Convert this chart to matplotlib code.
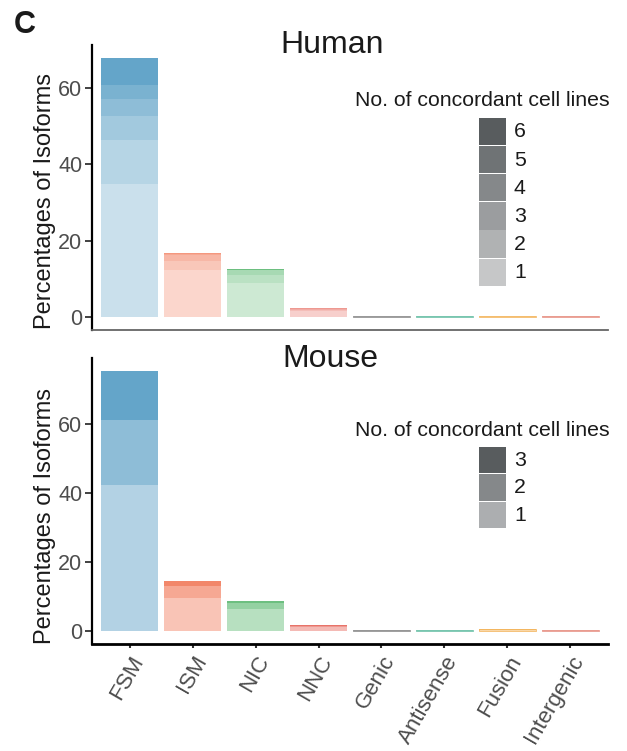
"""
Stacked bars of isoform categories (percentages), split by the number of
concordant cell lines, for human and mouse.
"""
import numpy as np
import matplotlib
matplotlib.use("Agg")
import matplotlib.pyplot as plt
from matplotlib.colors import to_rgb
from matplotlib.patches import Rectangle


CATEGORIES = ["FSM", "ISM", "NIC", "NNC", "Genic", "Antisense", "Fusion", "Intergenic"]

# percentage of isoforms per category, one list per number of concordant cell lines
HUMAN_1 = [34.8, 12.4, 9.0, 1.6, 0.15, 0.12, 0.12, 0.12]
HUMAN_2 = [11.6, 2.4, 1.9, 0.35, 0.06, 0.05, 0.05, 0.05]
HUMAN_3 = [6.4, 1.35, 1.3, 0.2, 0.04, 0.04, 0.04, 0.04]
HUMAN_4 = [4.3, 0.35, 0.2, 0.1, 0.03, 0.03, 0.03, 0.03]
HUMAN_5 = [3.8, 0.2, 0.05, 0.03, 0.02, 0.02, 0.02, 0.02]
HUMAN_6 = [7.0, 0.2, 0.05, 0.02, 0.02, 0.02, 0.02, 0.02]

MOUSE_1 = [42.4, 9.6, 6.2, 0.9, 0.12, 0.14, 0.16, 0.14]
MOUSE_2 = [18.8, 3.4, 1.9, 0.4, 0.07, 0.07, 0.08, 0.07]
MOUSE_3 = [14.3, 1.4, 0.5, 0.2, 0.05, 0.06, 0.06, 0.05]

HUMAN_LEVELS = ["1", "2", "3", "4", "5", "6"]
MOUSE_LEVELS = ["1", "2", "3"]

BASE_COLORS = ["#4995bf", "#f07250", "#53b469", "#e45a4e",
               "#6a6a6a", "#3fae8c", "#f0a030", "#e07262"]
LEGEND_BASE = "#3a3f42"
HUMAN_ALPHA = [0.29, 0.40, 0.51, 0.62, 0.73, 0.85]
MOUSE_ALPHA = [0.42, 0.62, 0.85]

W, H = 627, 751
TEXT = "#1a1a1a"
TICK = "#4d4d4d"

plt.rcParams["font.family"] = ["Liberation Sans", "DejaVu Sans"]


def tint(color, alpha):
    """Blend a colour with white, like a translucent fill on a white page."""
    rgb = np.array(to_rgb(color))
    return tuple(1 - alpha * (1 - rgb))


def px(x, y):
    """Pixel position (from the top left) to figure fraction."""
    return x / W, 1 - y / H


def draw_panel(ax, levels, alphas, show_x):
    x = np.arange(1, len(CATEGORIES) + 1)
    bottom = np.zeros(len(CATEGORIES))
    for values, alpha in zip(levels, alphas):
        values = np.array(values)
        colors = [tint(c, alpha) for c in BASE_COLORS]
        ax.bar(x, values, width=0.9, bottom=bottom, color=colors, linewidth=0)
        bottom += values
    # thin outline on the tiny categories so they stay visible as a line
    small = bottom < 1
    ax.bar(x[small], bottom[small], width=0.9, color="none",
           edgecolor=[tint(c, 0.75) for c, s in zip(BASE_COLORS, small) if s],
           linewidth=0.6)
    top = bottom.max()
    ax.set_ylim(-0.05 * top, 1.05 * top)
    ax.set_xlim(0.4, len(CATEGORIES) + 0.6)
    ax.set_yticks([0, 20, 40, 60])
    ax.tick_params(axis="y", labelsize=15.5, labelcolor=TICK, length=5,
                   width=1.3, color="#333333", pad=2)
    for side in ("top", "right"):
        ax.spines[side].set_visible(False)
    ax.spines["left"].set_linewidth(1.6)
    ax.spines["left"].set_color("black")
    ax.set_xticks(x)
    if show_x:
        ax.spines["bottom"].set_linewidth(2.0)
        ax.spines["bottom"].set_color("black")
        ax.tick_params(axis="x", length=3, width=1.5, color="#333333", pad=3)
        ax.set_xticklabels(CATEGORIES, rotation=60, ha="right", va="top",
                           rotation_mode="anchor", fontsize=16, color=TICK)
    else:
        ax.spines["bottom"].set_linewidth(1.3)
        ax.spines["bottom"].set_color("#666666")
        ax.tick_params(axis="x", length=0, labelbottom=False)


def draw_legend(fig, labels, alphas, title_y, top_y, box_h):
    fig.text(*px(355, title_y), "No. of concordant cell lines", fontsize=15.3,
             color=TEXT, ha="left", va="center")
    for i, (label, alpha) in enumerate(zip(labels[::-1], alphas[::-1])):
        y0 = top_y + i * box_h
        x0, y1 = px(479, y0 + box_h - 1)
        fig.add_artist(Rectangle((x0, y1), 27 / W, (box_h - 1) / H,
                                 transform=fig.transFigure,
                                 facecolor=tint(LEGEND_BASE, alpha),
                                 edgecolor="none"))
        fig.text(*px(514, y0 + box_h / 2), label, fontsize=15.3, color=TEXT,
                 ha="left", va="center")


def main():
    fig = plt.figure(figsize=(W / 100, H / 100), dpi=100)
    ax_h = fig.add_axes([92 / W, 1 - 330 / H, 516 / W, 285 / H])
    ax_m = fig.add_axes([92 / W, 1 - 643.5 / H, 516 / W, 285.5 / H])

    draw_panel(ax_h, [HUMAN_1, HUMAN_2, HUMAN_3, HUMAN_4, HUMAN_5, HUMAN_6],
               HUMAN_ALPHA, show_x=False)
    draw_panel(ax_m, [MOUSE_1, MOUSE_2, MOUSE_3], MOUSE_ALPHA, show_x=True)

    fig.text(*px(332, 53), "Human", fontsize=23, color=TEXT, ha="center", va="baseline")
    fig.text(*px(330, 367), "Mouse", fontsize=23, color=TEXT, ha="center", va="baseline")
    fig.text(*px(14, 33), "C", fontsize=22, fontweight="bold", color=TEXT,
             ha="left", va="baseline")
    for yc in (201, 516):
        fig.text(*px(45, yc), "Percentages of Isoforms", fontsize=17, color=TEXT,
                 rotation=90, ha="center", va="center")

    draw_legend(fig, HUMAN_LEVELS, HUMAN_ALPHA, 101, 117.7, 28.2)
    draw_legend(fig, MOUSE_LEVELS, MOUSE_ALPHA, 430, 446.7, 27.5)

    fig.savefig("out.png", dpi=100)


if __name__ == "__main__":
    main()
